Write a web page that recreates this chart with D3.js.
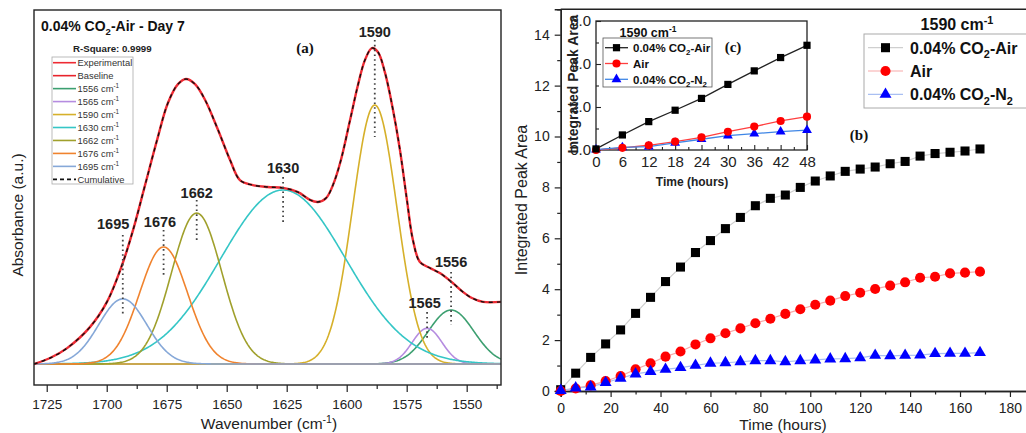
<!DOCTYPE html>
<html>
<head>
<meta charset="utf-8">
<script src="https://cdn.jsdelivr.net/npm/d3@7"></script>
<style>
  body { margin: 0; background: #fff; }
  svg { display: block; font-family: "Liberation Sans", Arial, sans-serif; }
</style>
</head>
<body>
<svg id="chart" width="1026" height="433"></svg>
<script>
// ---------- panel (a): FTIR spectrum + peak fit ----------
const wavenumbers = [1730.3, 1723.6, 1716.5, 1707.0, 1699.9, 1693.6, 1689.0, 1684.0, 1679.0, 1674.5,
  1670.3, 1667.0, 1663.2, 1659.0, 1653.6, 1648.6, 1644.5, 1639.5, 1633.0, 1626.5,
  1620.3, 1615.3, 1612.0, 1608.6, 1605.7, 1602.4, 1598.6, 1595.3, 1592.4, 1589.5,
  1587.0, 1584.1, 1580.7, 1577.8, 1574.9, 1572.4, 1569.5, 1565.3, 1561.2, 1555.8,
  1552.0, 1547.8, 1543.2, 1535.7];
const absorbance = [0.000, 0.020, 0.053, 0.123, 0.207, 0.330, 0.447, 0.597, 0.747, 0.870,
  0.933, 0.950, 0.933, 0.880, 0.780, 0.680, 0.613, 0.597, 0.590, 0.587,
  0.573, 0.547, 0.540, 0.553, 0.597, 0.680, 0.813, 0.930, 1.013, 1.053,
  1.040, 0.973, 0.847, 0.713, 0.547, 0.413, 0.340, 0.320, 0.303, 0.270,
  0.243, 0.220, 0.207, 0.207];

const peakNames   = ["1556", "1565", "1590", "1630", "1662", "1676", "1695"];
const peakCenters = [1556.5, 1566.5, 1588.3, 1626.5, 1662.5, 1676.3, 1693.3];
const peakHeights = [0.180, 0.119, 0.863, 0.580, 0.503, 0.390, 0.217];
const peakWidths  = [9.5, 6.2, 9.2, 26, 10.5, 10, 10];

// annotation levels (a.u.) for the peak labels and dotted markers
const labelLevel = [0.34, 0.203, 1.107, 0.653, 0.57, 0.473, 0.467];
const dotTop     = [0.307, 0.173, 1.08, 0.623, 0.547, 0.447, 0.43];
const dotBottom  = [0.13, 0.08, 0.757, 0.473, 0.403, 0.297, 0.163];
const labelShift = [0, 1, 0, 0, 0, 1.5, 4];

// ---------- panel (b)/(c): integrated peak area ----------
const hours  = [0, 6, 12, 18, 24, 30, 36, 42, 48, 54, 60, 66, 72, 78, 84, 90, 96, 102, 108, 114, 120, 126, 132, 138, 144, 150, 156, 162, 168];
const co2Air = [0.05, 0.70, 1.32, 1.85, 2.40, 3.05, 3.68, 4.30, 4.87, 5.44, 5.91, 6.38, 6.82, 7.28, 7.57, 7.70, 8.00, 8.25, 8.45, 8.63, 8.72, 8.80, 8.93, 9.02, 9.23, 9.33, 9.38, 9.43, 9.51];
const air    = [0.00, 0.10, 0.22, 0.39, 0.59, 0.85, 1.09, 1.35, 1.55, 1.83, 2.07, 2.27, 2.46, 2.66, 2.84, 3.03, 3.21, 3.39, 3.55, 3.73, 3.86, 4.01, 4.14, 4.27, 4.45, 4.49, 4.62, 4.65, 4.69];
const co2N2  = [0.02, 0.12, 0.16, 0.33, 0.50, 0.67, 0.76, 0.85, 0.92, 1.01, 1.09, 1.11, 1.15, 1.19, 1.19, 1.15, 1.19, 1.22, 1.26, 1.27, 1.30, 1.40, 1.38, 1.40, 1.41, 1.47, 1.48, 1.48, 1.51];
const seriesNames = ["0.04% CO_{2}-Air", "Air", "0.04% CO_{2}-N_{2}"];
const insetHours = 48;

const peakColors = ["#3c9f70", "#b58ce0", "#d6b02a", "#35c6c6", "#a0a02c", "#f0832e", "#86a8d8"];
const serif = "'Liberation Serif', 'Times New Roman', serif";

var svg = d3.select("#chart");

// text with _{sub} and ^{sup}
function rich(sel, str, fs) {
  var parts = str.split(/(_\{[^}]*\}|\^\{[^}]*\})/).filter(s => s.length);
  var shift = 0;
  parts.forEach(p => {
    var t = sel.append("tspan");
    var want = 0, txt = p;
    if (p[0] === "_") { want = fs * 0.3; txt = p.slice(2, -1); t.attr("font-size", fs * 0.68); }
    else if (p[0] === "^") { want = -fs * 0.4; txt = p.slice(2, -1); t.attr("font-size", fs * 0.68); }
    t.attr("dy", want - shift).text(txt);
    shift = want;
  });
  return sel;
}

// ================= panel (a) =================
var xA = d3.scaleLinear().domain([1730.3, 1535.7]).range([34, 501]);
var yA = d3.scaleLinear().domain([-0.07, 1.18]).range([385, 10]);
var gA = svg.append("g");

svg.append("clipPath").attr("id", "clipA").append("rect")
  .attr("x", xA.range()[0]).attr("y", yA.range()[1])
  .attr("width", xA.range()[1] - xA.range()[0]).attr("height", yA.range()[0] - yA.range()[1]);

var plotA = gA.append("g").attr("clip-path", "url(#clipA)");
var grid = d3.range(1535.7, 1730.4, 0.4);

// baseline
plotA.append("line")
  .attr("x1", xA(1730.3)).attr("x2", xA(1535.7)).attr("y1", yA(0)).attr("y2", yA(0))
  .attr("stroke", "#e8232b").attr("stroke-width", 1.5);

var compLine = d3.line().x(d => xA(d[0])).y(d => yA(d[1]));
peakNames.forEach((n, i) => {
  var pts = grid.map(w => [w, peakHeights[i] * Math.exp(-0.5 * Math.pow((w - peakCenters[i]) / peakWidths[i], 2))]);
  plotA.append("path").attr("d", compLine(pts))
    .attr("fill", "none").attr("stroke", peakColors[i]).attr("stroke-width", 1.6);
});

var spectrum = wavenumbers.map((w, i) => [w, absorbance[i]]);
var specLine = d3.line().x(d => xA(d[0])).y(d => yA(d[1])).curve(d3.curveCatmullRom.alpha(0.5));
plotA.append("path").attr("d", specLine(spectrum))
  .attr("fill", "none").attr("stroke", "#ee2a33").attr("stroke-width", 2.4);
plotA.append("path").attr("d", specLine(spectrum))
  .attr("fill", "none").attr("stroke", "#111").attr("stroke-width", 1.4).attr("stroke-dasharray", "4,4");

// peak labels + dotted markers
peakNames.forEach((n, i) => {
  var cx = xA(peakCenters[i]);
  gA.append("line").attr("x1", cx).attr("x2", cx)
    .attr("y1", yA(dotTop[i])).attr("y2", yA(dotBottom[i]))
    .attr("stroke", "#444").attr("stroke-width", 1.8).attr("stroke-dasharray", "1.6,3.2");
  gA.append("text").attr("x", xA(peakCenters[i] + labelShift[i])).attr("y", yA(labelLevel[i]) + 5)
    .attr("text-anchor", "middle").attr("font-size", 14.5).attr("font-weight", "bold").attr("fill", "#222")
    .text(n);
});

// frame
gA.append("rect")
  .attr("x", xA.range()[0]).attr("y", yA.range()[1])
  .attr("width", xA.range()[1] - xA.range()[0]).attr("height", yA.range()[0] - yA.range()[1])
  .attr("fill", "none").attr("stroke", "#222").attr("stroke-width", 1.4);

// x axis
var axA = gA.append("g").attr("transform", "translate(0," + yA.range()[0] + ")")
  .call(d3.axisBottom(xA).tickValues(d3.range(1725, 1549, -25)).tickSize(7).tickPadding(7).tickFormat(d3.format("d")));
axA.select(".domain").remove();
axA.attr("font-family", null).attr("font-size", 13.5);
axA.selectAll("line").attr("stroke", "#222").attr("stroke-width", 1.2);
axA.selectAll("text").attr("fill", "#222");
var axAm = gA.append("g").attr("transform", "translate(0," + yA.range()[0] + ")")
  .call(d3.axisBottom(xA).tickValues(d3.range(1712.5, 1536, -25)).tickSize(4).tickFormat(""));
axAm.select(".domain").remove();
axAm.selectAll("line").attr("stroke", "#222").attr("stroke-width", 1.2);

rich(gA.append("text").attr("x", 269).attr("y", 429).attr("text-anchor", "middle")
  .attr("font-size", 15.5).attr("fill", "#222"), "Wavenumber (cm^{-1})", 15.5);
gA.append("text").attr("transform", "translate(23,215) rotate(-90)").attr("text-anchor", "middle")
  .attr("font-size", 15.5).attr("fill", "#222").text("Absorbance (a.u.)");

rich(gA.append("text").attr("x", 41).attr("y", 31).attr("font-size", 14).attr("font-weight", "bold")
  .attr("fill", "#111"), "0.04% CO_{2}-Air - Day 7", 14);
gA.append("text").attr("x", 73).attr("y", 51.5).attr("font-size", 9.7).attr("font-weight", "bold")
  .attr("fill", "#222").text("R-Square: 0.9999");
gA.append("text").attr("x", 305).attr("y", 53).attr("text-anchor", "middle").attr("font-family", serif)
  .attr("font-size", 15).attr("font-weight", "bold").attr("fill", "#111").text("(a)");

// legend (a)
var legA = gA.append("g");
legA.append("rect").attr("x", 52).attr("y", 57).attr("width", 81).attr("height", 127)
  .attr("fill", "#fff").attr("stroke", "#aaa").attr("stroke-width", 0.8);
var legItems = [["Experimental", "#ee2a33", null], ["Baseline", "#e8232b", null]]
  .concat(peakNames.map((n, i) => [n + " cm^{-1}", peakColors[i], null]))
  .concat([["Cumulative", "#111", "4,3"]]);
legItems.forEach((it, i) => {
  var cy = 62.7 + i * 12.96;
  legA.append("line").attr("x1", 53).attr("x2", 76).attr("y1", cy).attr("y2", cy)
    .attr("stroke", it[1]).attr("stroke-width", it[2] ? 1.8 : 1.6).attr("stroke-dasharray", it[2]);
  rich(legA.append("text").attr("x", 77.5).attr("y", cy + 3.3).attr("font-size", 9.4).attr("fill", "#333"), it[0], 9.4);
});

// ================= panel (b) =================
var xB = d3.scaleLinear().domain([0, 190]).range([560.7, 1034.9]);
var yB = d3.scaleLinear().domain([0, 15]).range([391, 9.25]);
var gB = svg.append("g");
var seriesVals = [co2Air, air, co2N2];
var markerFill = ["#000", "#ff0000", "#0000ff"];
var faintLine = ["#cfcfcf", "#f7a9a9", "#a9bff2"];
var insetLine = ["#222", "#ff3f3f", "#3f86e6"];
var markerType = [d3.symbolSquare, d3.symbolCircle, d3.symbolTriangle];
var bigSize = [82, 80, 62];
var smallSize = [52, 52, 42];

// frame lines
gB.append("line").attr("x1", xB(0)).attr("x2", 1026).attr("y1", yB(15)).attr("y2", yB(15))
  .attr("stroke", "#222").attr("stroke-width", 1.4);

var axBy = gB.append("g").attr("transform", "translate(" + xB(0) + ",0)")
  .call(d3.axisLeft(yB).tickValues(d3.range(0, 15, 2)).tickSize(6).tickPadding(5));
var axByM = gB.append("g").attr("transform", "translate(" + xB(0) + ",0)")
  .call(d3.axisLeft(yB).tickValues(d3.range(1, 15, 2)).tickSize(3.5).tickFormat(""));
var axBx = gB.append("g").attr("transform", "translate(0," + yB(0) + ")")
  .call(d3.axisBottom(xB).tickValues(d3.range(0, 181, 20)).tickSize(6).tickPadding(6));
var axBxM = gB.append("g").attr("transform", "translate(0," + yB(0) + ")")
  .call(d3.axisBottom(xB).tickValues(d3.range(10, 191, 20)).tickSize(3.5).tickFormat(""));
[axBy, axByM, axBx, axBxM].forEach(a => {
  a.attr("font-family", null).attr("font-size", 14);
  a.select(".domain").attr("stroke", "#222").attr("stroke-width", 1.4);
  a.selectAll("line").attr("stroke", "#222").attr("stroke-width", 1.2);
  a.selectAll("text").attr("fill", "#222");
});

gB.append("text").attr("transform", "translate(527,200) rotate(-90)").attr("text-anchor", "middle")
  .attr("font-size", 16).attr("fill", "#222").text("Integrated Peak Area");
gB.append("text").attr("x", 783).attr("y", 430).attr("text-anchor", "middle")
  .attr("font-size", 15.5).attr("fill", "#222").text("Time (hours)");

seriesVals.forEach((vals, s) => {
  var pts = hours.map((h, i) => [h, vals[i]]);
  gB.append("path").attr("d", d3.line().x(d => xB(d[0])).y(d => yB(d[1]))(pts))
    .attr("fill", "none").attr("stroke", faintLine[s]).attr("stroke-width", 1.2);
});
seriesVals.forEach((vals, s) => {
  gB.append("g").selectAll("path").data(hours.map((h, i) => [h, vals[i]])).join("path")
    .attr("transform", d => "translate(" + xB(d[0]) + "," + yB(d[1]) + ")")
    .attr("d", d3.symbol().type(markerType[s]).size(bigSize[s]))
    .attr("fill", markerFill[s]);
});

// legend (b)
var legB = gB.append("g");
rich(legB.append("text").attr("x", 957).attr("y", 30).attr("text-anchor", "middle")
  .attr("font-size", 16).attr("font-weight", "bold").attr("fill", "#111"), "1590 cm^{-1}", 16);
legB.append("rect").attr("x", 864).attr("y", 34).attr("width", 170).attr("height", 74)
  .attr("fill", "#fff").attr("stroke", "#aaa").attr("stroke-width", 1);
seriesNames.forEach((n, s) => {
  var cy = 47.7 + s * 23.3;
  legB.append("line").attr("x1", 868).attr("x2", 903).attr("y1", cy).attr("y2", cy)
    .attr("stroke", faintLine[s]).attr("stroke-width", 1.2);
  legB.append("path").attr("transform", "translate(885.5," + cy + ")")
    .attr("d", d3.symbol().type(markerType[s]).size(bigSize[s])).attr("fill", markerFill[s]);
  rich(legB.append("text").attr("x", 910).attr("y", cy + 5.8).attr("font-size", 16)
    .attr("font-weight", "bold").attr("fill", "#111"), n, 16);
});
gB.append("text").attr("x", 859).attr("y", 140).attr("text-anchor", "middle").attr("font-family", serif)
  .attr("font-size", 15).attr("font-weight", "bold").attr("fill", "#111").text("(b)");

// ================= inset (c) =================
var xC = d3.scaleLinear().domain([0, insetHours]).range([596, 807]);
var yC = d3.scaleLinear().domain([0, 6]).range([150, 21]);
var gC = svg.append("g");
gC.append("rect").attr("x", xC.range()[0]).attr("y", yC.range()[1])
  .attr("width", xC.range()[1] - xC.range()[0]).attr("height", yC.range()[0] - yC.range()[1])
  .attr("fill", "#fff").attr("stroke", "#222").attr("stroke-width", 1.3);

var axCy = gC.append("g").attr("transform", "translate(" + xC(0) + ",0)")
  .call(d3.axisLeft(yC).tickValues([0, 2, 4, 6]).tickSize(-5).tickPadding(5));
var axCyM = gC.append("g").attr("transform", "translate(" + xC(0) + ",0)")
  .call(d3.axisLeft(yC).tickValues([1, 3, 5]).tickSize(-3).tickFormat(""));
var axCx = gC.append("g").attr("transform", "translate(0," + yC(0) + ")")
  .call(d3.axisBottom(xC).tickValues(d3.range(0, 49, 6)).tickSize(-5).tickPadding(6));
var axCxM = gC.append("g").attr("transform", "translate(0," + yC(0) + ")")
  .call(d3.axisBottom(xC).tickValues(d3.range(3, 48, 6)).tickSize(-3).tickFormat(""));
[axCy, axCyM, axCx, axCxM].forEach(a => {
  a.attr("font-family", null).attr("font-size", 15);
  a.select(".domain").remove();
  a.selectAll("line").attr("stroke", "#222").attr("stroke-width", 1.1);
  a.selectAll("text").attr("fill", "#222");
});

gC.append("text").attr("transform", "translate(578,84) rotate(-90)").attr("text-anchor", "middle")
  .attr("font-size", 14).attr("font-weight", "bold").attr("fill", "#222").text("Integrated Peak Area");
gC.append("text").attr("x", 692).attr("y", 186).attr("text-anchor", "middle")
  .attr("font-size", 12).attr("font-weight", "bold").attr("fill", "#222").text("Time (hours)");

seriesVals.forEach((vals, s) => {
  var pts = hours.map((h, i) => [h, vals[i]]).filter(d => d[0] <= insetHours);
  gC.append("path").attr("d", d3.line().x(d => xC(d[0])).y(d => yC(d[1]))(pts))
    .attr("fill", "none").attr("stroke", insetLine[s]).attr("stroke-width", 1.3);
});
[2, 1, 0].forEach(s => {
  var pts = hours.map((h, i) => [h, seriesVals[s][i]]).filter(d => d[0] <= insetHours);
  gC.append("g").selectAll("path").data(pts).join("path")
    .attr("transform", d => "translate(" + xC(d[0]) + "," + yC(d[1]) + ")")
    .attr("d", d3.symbol().type(markerType[s]).size(smallSize[s]))
    .attr("fill", markerFill[s]);
});

rich(gC.append("text").attr("x", 648).attr("y", 36.5).attr("text-anchor", "middle")
  .attr("font-size", 12.5).attr("font-weight", "bold").attr("fill", "#111"), "1590 cm^{-1}", 12.5);
gC.append("text").attr("x", 733).attr("y", 52).attr("text-anchor", "middle").attr("font-family", serif)
  .attr("font-size", 15).attr("font-weight", "bold").attr("fill", "#111").text("(c)");

var legC = gC.append("g");
legC.append("rect").attr("x", 603).attr("y", 38).attr("width", 109).attr("height", 49)
  .attr("fill", "#fff").attr("stroke", "#555").attr("stroke-width", 0.8);
seriesNames.forEach((n, s) => {
  var cy = 47.7 + s * 15.8;
  legC.append("line").attr("x1", 605).attr("x2", 628).attr("y1", cy).attr("y2", cy)
    .attr("stroke", insetLine[s]).attr("stroke-width", 1.3);
  legC.append("path").attr("transform", "translate(616.5," + cy + ")")
    .attr("d", d3.symbol().type(markerType[s]).size(smallSize[s])).attr("fill", markerFill[s]);
  rich(legC.append("text").attr("x", 633).attr("y", cy + 4.2).attr("font-size", 11.5)
    .attr("font-weight", "bold").attr("fill", "#111"), n, 11.5);
});
</script>
</body>
</html>
